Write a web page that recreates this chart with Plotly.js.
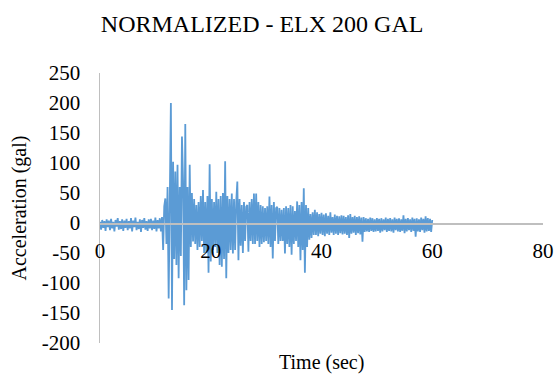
<!DOCTYPE html>
<html>
<head>
<meta charset="utf-8">
<script src="https://cdn.plot.ly/plotly-3.0.1.min.js"></script>
<style>html,body{margin:0;padding:0;background:#fff;}#chart{width:556px;height:374px;}</style>
</head>
<body>
<div id="chart"></div>
<script>
// Time step of the digitised record (sec) and the acceleration values (gal)
const timeStep = 0.2;
const acceleration = [
  2,-11,5,-8,3,
  -13,6,-7,4,-12,
  7,-9,2,-14,5,
  -6,8,-11,3,-10,
  6,-13,4,-8,7,
  -12,3,-9,8,-14,
  4,-7,9,-12,2,
  -10,6,-15,5,-8,
  8,-11,3,-13,6,
  -9,7,-12,4,-10,
  9,-14,5,-9,8,
  -14,10,-45,28,41,
  -35,60,-126,75,200,
  -145,102,-60,86,-70,
  97,-92,60,-55,144,
  70,-137,165,-112,60,
  -95,97,-40,50,-31,
  40,-35,30,-45,35,
  -40,45,-30,55,-50,
  35,-50,45,-83,98,
  -64,40,-45,35,-40,
  52,-50,40,-70,45,
  -73,50,-60,103,-92,
  45,-50,40,-45,49,
  -51,40,-45,35,69,
  -62,40,-38,30,-50,
  35,-30,27,30,-48,
  35,-30,40,-35,49,
  -35,49,-30,35,-40,
  30,-35,28,-32,25,
  -30,28,-35,44,-40,
  30,-59,35,-30,25,
  27,-35,25,-30,22,
  -30,25,-51,28,-35,
  25,-40,30,-53,28,
  -35,20,-30,36,-40,
  30,-62,35,-45,58,
  -83,30,-40,25,-28,
  15,-25,18,-20,22,
  -20,18,-22,15,-18,
  17,-20,14,-22,16,
  -18,12,-20,18,-16,
  10,-20,14,-18,12,
  -20,11,-17,13,-19,
  12,-18,10,-20,13,
  -25,15,-18,10,-16,
  12,-20,10,-17,11,
  -19,9,-31,10,-15,
  8,-14,7,-15,9,
  -13,8,-15,6,-14,
  8,-13,7,-16,8,
  -14,6,-12,9,-15,
  7,-13,8,-14,6,
  -16,9,-12,7,-14,
  8,-15,6,-13,13,
  -17,7,-14,8,-12,
  6,-15,9,-13,7,
  -23,8,-14,6,-15,
  9,-12,7,-16,11,
  -14,8,-13,7,-15,
  5
];
const time = acceleration.map((_, i) => +(i * timeStep).toFixed(2));

const xTickValues = [0, 20, 40, 60, 80];
const yTickValues = [-200, -150, -100, -50, 0, 50, 100, 150, 200, 250];

const chartTitle = 'NORMALIZED - ELX 200 GAL';
const xTitle = 'Time (sec)';
const yTitle = 'Acceleration (gal)';

const serif = 'Liberation Serif, DejaVu Serif, serif';
const yMin = -200, yMax = 250;

const trace = {
  x: time,
  y: acceleration,
  type: 'scatter',
  mode: 'lines',
  line: {color: '#5B9BD5', width: 1.8},
  hoverinfo: 'skip'
};

const layout = {
  width: 556,
  height: 374,
  margin: {l: 100, r: 13, t: 73, b: 31, pad: 0},
  paper_bgcolor: '#ffffff',
  plot_bgcolor: '#ffffff',
  showlegend: false,
  font: {family: serif, color: '#000000', size: 21},
  title: {
    text: chartTitle,
    font: {family: serif, size: 24, color: '#000000'},
    xref: 'paper', x: 0.366, xanchor: 'center',
    yref: 'container', y: 0.938, yanchor: 'middle'
  },
  xaxis: {
    range: [0, 80],
    tickvals: xTickValues,
    ticktext: xTickValues.map(String),
    anchor: 'free',
    position: (0 - yMin) / (yMax - yMin),
    showline: true,
    linecolor: '#BFBFBF',
    linewidth: 1.5,
    showgrid: false,
    zeroline: false,
    ticks: '',
    ticklabelstandoff: 8,
    tickfont: {family: serif, size: 21, color: '#000000'}
  },
  yaxis: {
    range: [yMin, yMax],
    tickvals: yTickValues,
    ticktext: yTickValues.map(String),
    showline: true,
    linecolor: '#BFBFBF',
    linewidth: 1.5,
    showgrid: false,
    zeroline: false,
    ticks: '',
    ticklabelstandoff: 14,
    tickfont: {family: serif, size: 21, color: '#000000'},
    title: {text: yTitle, font: {family: serif, size: 20, color: '#000000'}, standoff: 10}
  },
  annotations: [{
    text: xTitle,
    xref: 'paper', x: 0.5, xanchor: 'center',
    yref: 'paper', y: -0.074, yanchor: 'middle',
    showarrow: false,
    font: {family: serif, size: 20, color: '#000000'}
  }]
};

Plotly.newPlot('chart', [trace], layout, {staticPlot: true, displayModeBar: false});
</script>
</body>
</html>
